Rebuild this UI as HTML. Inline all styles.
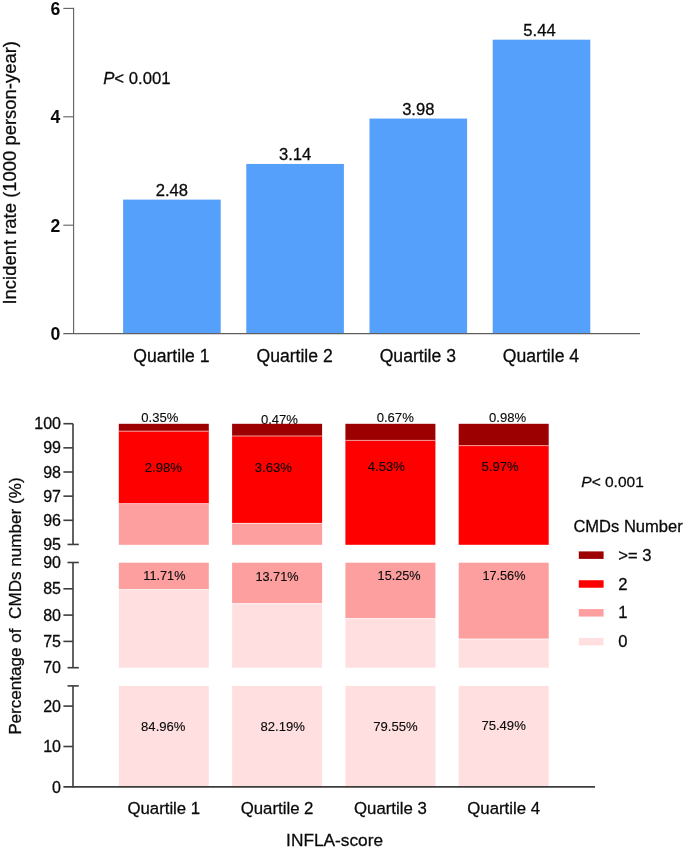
<!DOCTYPE html><html><head><meta charset="utf-8"><style>
html,body{margin:0;padding:0;background:#fff;}
svg{display:block;will-change:transform;font-family:"Liberation Sans",sans-serif;}
text{fill:#0a0a0a;stroke:#0a0a0a;stroke-width:0.28px;}
text.s,.s text{stroke-width:0.12px;}
text.b{stroke:none;}
</style></head><body>
<svg width="685" height="849" viewBox="0 0 685 849">
<rect x="0" y="0" width="685" height="849" fill="#ffffff"/>
<rect x="123.10" y="199.61" width="97.60" height="133.99" fill="#55A0FB"/>
<text x="171.90" y="195.81" font-size="16.6" text-anchor="middle">2.48</text>
<text x="171.40" y="361.8" font-size="17.6" text-anchor="middle">Quartile 1</text>
<rect x="246.30" y="163.95" width="97.60" height="169.65" fill="#55A0FB"/>
<text x="295.10" y="160.15" font-size="16.6" text-anchor="middle">3.14</text>
<text x="294.60" y="361.8" font-size="17.6" text-anchor="middle">Quartile 2</text>
<rect x="369.50" y="118.56" width="97.60" height="215.04" fill="#55A0FB"/>
<text x="418.30" y="114.76" font-size="16.6" text-anchor="middle">3.98</text>
<text x="417.80" y="361.8" font-size="17.6" text-anchor="middle">Quartile 3</text>
<rect x="492.70" y="39.68" width="97.60" height="293.92" fill="#55A0FB"/>
<text x="539.50" y="35.88" font-size="16.6" text-anchor="middle">5.44</text>
<text x="541.00" y="361.8" font-size="17.6" text-anchor="middle">Quartile 4</text>
<path d="M73.6 7.8 V333.6" stroke="#606060" stroke-width="1.1" fill="none"/>
<path d="M63.3 333.6 H640.0" stroke="#606060" stroke-width="1.1" fill="none"/>
<path d="M63.3 225.20 H73.6" stroke="#606060" stroke-width="1.1" fill="none"/>
<path d="M63.3 116.80 H73.6" stroke="#606060" stroke-width="1.1" fill="none"/>
<path d="M63.3 8.40 H73.6" stroke="#606060" stroke-width="1.1" fill="none"/>
<text x="60.4" y="340.00" font-size="17.6" font-weight="bold" class="b" text-anchor="end">0</text>
<text x="60.4" y="231.60" font-size="17.6" font-weight="bold" class="b" text-anchor="end">2</text>
<text x="60.4" y="123.20" font-size="17.6" font-weight="bold" class="b" text-anchor="end">4</text>
<text x="60.4" y="14.80" font-size="17.6" font-weight="bold" class="b" text-anchor="end">6</text>
<text x="103.2" y="83.7" font-size="16.7"><tspan font-style="italic">P</tspan>&lt; 0.001</text>
<text transform="translate(15.6 304.6) rotate(-90)" font-size="18.4" textLength="263.6" lengthAdjust="spacing">Incident rate (1000 person-year)</text>
<text x="279.45" y="424.1" font-size="13.1" class="s" text-anchor="middle">0.47%</text>
<rect x="118.80" y="423.80" width="90.00" height="7.50" fill="#9C0000"/>
<rect x="118.80" y="431.20" width="90.00" height="72.10" fill="#FF0000"/>
<rect x="118.80" y="503.30" width="90.00" height="41.50" fill="#FD9F9F"/>
<path d="M118.80 503.70 h90.00" stroke="#ffb4b4" stroke-width="0.9" fill="none"/>
<path d="M118.80 431.20 h90.00" stroke="#f29a9a" stroke-width="1" fill="none"/>
<rect x="118.80" y="562.70" width="90.00" height="26.40" fill="#FD9F9F"/>
<rect x="118.80" y="589.10" width="90.00" height="78.60" fill="#FFDFDF"/>
<path d="M118.80 589.60 h90.00" stroke="#fff2f2" stroke-width="0.9" fill="none"/>
<rect x="118.80" y="685.90" width="90.00" height="101.00" fill="#FFDFDF"/>
<text x="163.80" y="814.2" font-size="16.8" text-anchor="middle">Quartile 1</text>
<rect x="232.10" y="423.80" width="90.00" height="12.30" fill="#9C0000"/>
<rect x="232.10" y="436.00" width="90.00" height="87.00" fill="#FF0000"/>
<rect x="232.10" y="523.00" width="90.00" height="21.80" fill="#FD9F9F"/>
<path d="M232.10 523.40 h90.00" stroke="#ffe4e4" stroke-width="0.9" fill="none"/>
<path d="M232.10 436.00 h90.00" stroke="#f29a9a" stroke-width="1" fill="none"/>
<rect x="232.10" y="562.70" width="90.00" height="40.50" fill="#FD9F9F"/>
<rect x="232.10" y="603.20" width="90.00" height="64.50" fill="#FFDFDF"/>
<path d="M232.10 603.70 h90.00" stroke="#fff2f2" stroke-width="0.9" fill="none"/>
<rect x="232.10" y="685.90" width="90.00" height="101.00" fill="#FFDFDF"/>
<text x="277.10" y="814.2" font-size="16.8" text-anchor="middle">Quartile 2</text>
<rect x="345.40" y="423.80" width="90.00" height="16.70" fill="#9C0000"/>
<rect x="345.40" y="440.40" width="90.00" height="104.40" fill="#FF0000"/>
<path d="M345.40 440.40 h90.00" stroke="#f29a9a" stroke-width="1" fill="none"/>
<rect x="345.40" y="562.70" width="90.00" height="55.50" fill="#FD9F9F"/>
<rect x="345.40" y="618.20" width="90.00" height="49.50" fill="#FFDFDF"/>
<path d="M345.40 618.70 h90.00" stroke="#fff2f2" stroke-width="0.9" fill="none"/>
<rect x="345.40" y="685.90" width="90.00" height="101.00" fill="#FFDFDF"/>
<text x="390.40" y="814.2" font-size="16.8" text-anchor="middle">Quartile 3</text>
<rect x="458.70" y="423.80" width="90.00" height="21.90" fill="#9C0000"/>
<rect x="458.70" y="445.60" width="90.00" height="99.20" fill="#FF0000"/>
<path d="M458.70 445.60 h90.00" stroke="#f29a9a" stroke-width="1" fill="none"/>
<rect x="458.70" y="562.70" width="90.00" height="76.10" fill="#FD9F9F"/>
<rect x="458.70" y="638.80" width="90.00" height="28.90" fill="#FFDFDF"/>
<path d="M458.70 639.30 h90.00" stroke="#fff2f2" stroke-width="0.9" fill="none"/>
<rect x="458.70" y="685.90" width="90.00" height="101.00" fill="#FFDFDF"/>
<text x="503.70" y="814.2" font-size="16.8" text-anchor="middle">Quartile 4</text>
<path d="M73.0 423.7 V544.45" stroke="#3d3d3d" stroke-width="1.6" fill="none"/>
<path d="M73.0 562.5 V667.70" stroke="#3d3d3d" stroke-width="1.6" fill="none"/>
<path d="M73.0 685.9 V787.60" stroke="#3d3d3d" stroke-width="1.6" fill="none"/>
<path d="M63.4 786.9 H595" stroke="#3d3d3d" stroke-width="1.6" fill="none"/>
<path d="M63.4 423.70 H73.0" stroke="#3d3d3d" stroke-width="1.6" fill="none"/>
<path d="M63.4 447.85 H73.0" stroke="#3d3d3d" stroke-width="1.6" fill="none"/>
<path d="M63.4 472.00 H73.0" stroke="#3d3d3d" stroke-width="1.6" fill="none"/>
<path d="M63.4 496.15 H73.0" stroke="#3d3d3d" stroke-width="1.6" fill="none"/>
<path d="M63.4 520.30 H73.0" stroke="#3d3d3d" stroke-width="1.6" fill="none"/>
<path d="M67.5 544.45 H78.8" stroke="#3d3d3d" stroke-width="1.6" fill="none"/>
<path d="M67.5 562.50 H78.8" stroke="#3d3d3d" stroke-width="1.6" fill="none"/>
<path d="M67.5 667.70 H78.8" stroke="#3d3d3d" stroke-width="1.6" fill="none"/>
<path d="M67.5 685.90 H78.8" stroke="#3d3d3d" stroke-width="1.6" fill="none"/>
<path d="M63.4 588.80 H73.0" stroke="#3d3d3d" stroke-width="1.6" fill="none"/>
<path d="M63.4 615.10 H73.0" stroke="#3d3d3d" stroke-width="1.6" fill="none"/>
<path d="M63.4 641.40 H73.0" stroke="#3d3d3d" stroke-width="1.6" fill="none"/>
<path d="M63.4 706.10 H73.0" stroke="#3d3d3d" stroke-width="1.6" fill="none"/>
<path d="M63.4 746.50 H73.0" stroke="#3d3d3d" stroke-width="1.6" fill="none"/>
<text x="61" y="429.30" font-size="16.0" text-anchor="end">100</text>
<text x="61" y="453.45" font-size="16.0" text-anchor="end">99</text>
<text x="61" y="477.60" font-size="16.0" text-anchor="end">98</text>
<text x="61" y="501.75" font-size="16.0" text-anchor="end">97</text>
<text x="61" y="525.90" font-size="16.0" text-anchor="end">96</text>
<text x="61" y="550.05" font-size="16.0" text-anchor="end">95</text>
<text x="61" y="568.10" font-size="16.0" text-anchor="end">90</text>
<text x="61" y="594.40" font-size="16.0" text-anchor="end">85</text>
<text x="61" y="620.70" font-size="16.0" text-anchor="end">80</text>
<text x="61" y="647.00" font-size="16.0" text-anchor="end">75</text>
<text x="61" y="673.30" font-size="16.0" text-anchor="end">70</text>
<text x="61" y="711.70" font-size="16.0" text-anchor="end">20</text>
<text x="61" y="752.10" font-size="16.0" text-anchor="end">10</text>
<text x="61" y="792.50" font-size="16.0" text-anchor="end">0</text>
<text transform="translate(21.3 734.8) rotate(-90)" font-size="17.1" textLength="257.4" lengthAdjust="spacing" xml:space="preserve">Percentage of  CMDs number (%)</text>
<text x="334.6" y="845.8" font-size="17.3" text-anchor="middle">INFLA-score</text>
<g class="s" font-size="13.1" text-anchor="middle">
<text x="159.8" y="421.5">0.35%</text>
<text x="395.25" y="421.5">0.67%</text>
<text x="507.65" y="421.5">0.98%</text>
<text x="163.3" y="471.5">2.98%</text>
<text x="273.3" y="471.5">3.63%</text>
<text x="386.4" y="471.3">4.53%</text>
<text x="500.05" y="471.3">5.97%</text>
<text x="164.4" y="579.9" font-size="12.7">11.71%</text>
<text x="277.0" y="580.6" font-size="12.7">13.71%</text>
<text x="399.1" y="580.0" font-size="12.7">15.25%</text>
<text x="503.95" y="580.0" font-size="12.7">17.56%</text>
<text x="163.3" y="731.1">84.96%</text>
<text x="282.75" y="731.1">82.19%</text>
<text x="395.4" y="731.1">79.55%</text>
<text x="503.6" y="729.8">75.49%</text>
</g>
<text x="581.3" y="487.0" font-size="15.5"><tspan font-style="italic">P</tspan>&lt; 0.001</text>
<text x="573.4" y="531.8" font-size="16.55">CMDs Number</text>
<rect x="578.8" y="551.40" width="24.8" height="7.5" fill="#9C0000"/>
<text x="618.3" y="560.80" font-size="16.6">&gt;= 3</text>
<rect x="578.8" y="580.23" width="24.8" height="7.5" fill="#FF0000"/>
<text x="618.3" y="589.63" font-size="16.6">2</text>
<rect x="578.8" y="609.06" width="24.8" height="7.5" fill="#FD9F9F"/>
<text x="618.3" y="618.46" font-size="16.6">1</text>
<rect x="578.8" y="637.89" width="24.8" height="7.5" fill="#FFDFDF"/>
<text x="618.3" y="647.29" font-size="16.6">0</text>
</svg></body></html>
